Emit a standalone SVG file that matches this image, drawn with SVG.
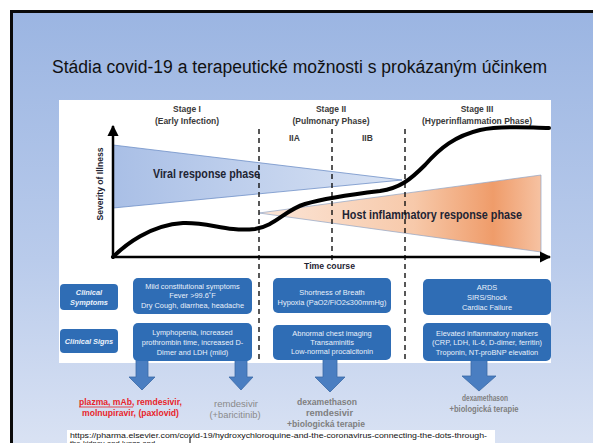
<svg xmlns="http://www.w3.org/2000/svg" width="593" height="443" viewBox="0 0 593 443">
  <defs>
    <linearGradient id="slideBg" x1="0" y1="0" x2="0" y2="1">
      <stop offset="0" stop-color="#9BB5E2"/>
      <stop offset="0.55" stop-color="#B9CBEB"/>
      <stop offset="1" stop-color="#DCE4F4"/>
    </linearGradient>
    <linearGradient id="viralFill" x1="113" y1="0" x2="402" y2="0" gradientUnits="userSpaceOnUse">
      <stop offset="0" stop-color="#A9BFE6"/>
      <stop offset="1" stop-color="#D9E3F4"/>
    </linearGradient>
    <linearGradient id="hostFill" x1="259" y1="0" x2="541" y2="0" gradientUnits="userSpaceOnUse">
      <stop offset="0" stop-color="#FBE6D8"/>
      <stop offset="0.55" stop-color="#F7C9AA"/>
      <stop offset="0.83" stop-color="#EF9C6A"/>
      <stop offset="1" stop-color="#F6C2A2"/>
    </linearGradient>
    <marker id="axisHead" viewBox="0 0 10 10" refX="9" refY="5" markerWidth="4.5" markerHeight="4.5" orient="auto">
      <path d="M0,0 L10,5 L0,10 Z" fill="#000"/>
    </marker>
    <style>
      .hdr { font-family: "Liberation Sans", Arial, sans-serif; font-size: 8.5px; font-weight: bold; fill: #3A3A3A; text-anchor: middle; }
      .sub { font-family: "Liberation Sans", Arial, sans-serif; font-size: 8.5px; font-weight: bold; fill: #3A3A3A; }
      .phase { font-family: "Liberation Sans", Arial, sans-serif; font-weight: bold; fill: #1E2433; }
      .dash { stroke: #111; stroke-width: 1.4; stroke-dasharray: 5 4; fill: none; }
      .box { fill: #2F6DB5; }
      .btxt { font-family: "Liberation Sans", Arial, sans-serif; font-size: 7.4px; fill: #EAF1FB; text-anchor: middle; }
      .lbl { font-family: "Liberation Sans", Arial, sans-serif; font-size: 7.4px; font-weight: bold; font-style: italic; fill: #EAF1FB; text-anchor: middle; }
      .arrow { fill: #4A7EC1; stroke: #3B6AA6; stroke-width: 0.8; }
      .red { font-family: "Liberation Sans", Arial, sans-serif; font-size: 9px; font-weight: bold; fill: #E8242A; text-anchor: middle; }
      .grey { font-family: "Liberation Sans", Arial, sans-serif; font-size: 9px; fill: #8A8A8A; text-anchor: middle; }
      .greyb { font-family: "Liberation Sans", Arial, sans-serif; font-size: 9px; font-weight: bold; fill: #7F7F7F; text-anchor: middle; }
    </style>
  </defs>

  <!-- slide background and frame -->
  <rect x="0" y="0" width="593" height="443" fill="#FFFFFF"/>
  <rect x="11.5" y="11.5" width="600" height="450" fill="url(#slideBg)" stroke="#0A0A0A" stroke-width="3"/>

  <!-- title -->
  <text x="52" y="73" font-family="'Liberation Sans', Arial, sans-serif" font-size="18" fill="#111" textLength="495" lengthAdjust="spacingAndGlyphs">Stádia covid-19 a terapeutické možnosti s prokázaným účinkem</text>

  <!-- figure panel -->
  <rect x="59" y="100" width="492" height="263" fill="#FFFFFF"/>

  <!-- stage headers -->
  <g id="stage-headers">
    <text class="hdr" x="187" y="112">Stage I</text>
    <text class="hdr" x="187" y="124">(Early Infection)</text>
    <text class="hdr" x="331" y="112">Stage II</text>
    <text class="hdr" x="331" y="124">(Pulmonary Phase)</text>
    <text class="hdr" x="477" y="112">Stage III</text>
    <text class="hdr" x="477" y="124">(Hyperinflammation Phase)</text>
    <text class="sub" x="289" y="141">IIA</text>
    <text class="sub" x="362" y="141">IIB</text>
  </g>

  <!-- response phases -->
  <g id="viral-phase">
    <polygon points="113,145 402,180 113,208" fill="url(#viralFill)" stroke="#7090C8" stroke-width="0.8"/>
    <text class="phase" x="153" y="178" font-size="12" textLength="107" lengthAdjust="spacingAndGlyphs">Viral response phase</text>
  </g>
  <g id="host-phase">
    <polygon points="259,213 541,175 541,252" fill="url(#hostFill)" stroke="#8FA3C4" stroke-width="0.7"/>
    <text class="phase" x="342" y="219" font-size="12" textLength="180" lengthAdjust="spacingAndGlyphs">Host inflammatory response phase</text>
  </g>

  <!-- connectors: stage dividers, axes, severity curve, treatment arrows -->
  <g id="connectors">
    <line class="dash" x1="259" y1="129" x2="259" y2="362"/>
    <line class="dash" x1="332" y1="129" x2="332" y2="262"/>
    <line class="dash" x1="405" y1="129" x2="405" y2="362"/>
    <line x1="113" y1="258" x2="113" y2="126" stroke="#000" stroke-width="2.5" marker-end="url(#axisHead)"/>
    <line x1="112" y1="257" x2="550" y2="257" stroke="#000" stroke-width="2.5" marker-end="url(#axisHead)"/>
    <path d="M113,257 C125,245 150,225 183,223 C210,222 225,232 255,229 C275,226 285,210 305,204 C325,198 355,194 380,191 C400,188 410,180 425,165 C440,148 455,136 480,130 C505,125 530,128 549,128" fill="none" stroke="#000" stroke-width="4" stroke-linecap="round"/>
    <path class="arrow" d="M136,359 L148,359 L148,377 L155,377 L142,390 L129,377 L136,377 Z"/>
    <path class="arrow" d="M235,359 L247,359 L247,377 L253,377 L241,390 L229,377 L235,377 Z"/>
    <path class="arrow" d="M323,359 L337,359 L337,377 L345,377 L330,392 L315,377 L323,377 Z"/>
    <path class="arrow" d="M471,359 L487,359 L487,376 L496,376 L479,391 L462,376 L471,376 Z"/>
  </g>

  <!-- axis titles -->
  <text class="phase" x="0" y="0" font-size="8.5" text-anchor="middle" transform="translate(103,184) rotate(-90)" textLength="73" lengthAdjust="spacingAndGlyphs">Severity of Illness</text>
  <text class="phase" x="304" y="269" font-size="9" textLength="51" lengthAdjust="spacingAndGlyphs">Time course</text>

  <!-- row labels -->
  <g id="label-symptoms">
    <rect class="box" x="60" y="284" width="58" height="26" rx="4"/>
    <text class="lbl" x="89" y="295">Clinical</text>
    <text class="lbl" x="89" y="305">Symptoms</text>
  </g>
  <g id="label-signs">
    <rect class="box" x="60" y="329" width="58" height="24" rx="4"/>
    <text class="lbl" x="89" y="344">Clinical Signs</text>
  </g>

  <!-- stage I boxes -->
  <g id="stage1-symptoms">
    <rect class="box" x="133" y="278" width="119" height="36" rx="5"/>
    <text class="btxt" x="192.5" y="289">Mild constitutional symptoms</text>
    <text class="btxt" x="192.5" y="298">Fever &gt;99.6˚F</text>
    <text class="btxt" x="192.5" y="308">Dry Cough, diarrhea, headache</text>
  </g>
  <g id="stage1-signs">
    <rect class="box" x="133" y="323" width="119" height="38" rx="5"/>
    <text class="btxt" x="192.5" y="335">Lymphopenia, increased</text>
    <text class="btxt" x="192.5" y="345">prothrombin time, increased D-</text>
    <text class="btxt" x="192.5" y="355">Dimer and LDH (mild)</text>
  </g>

  <!-- stage II boxes -->
  <g id="stage2-symptoms">
    <rect class="box" x="273" y="278" width="118" height="35" rx="5"/>
    <text class="btxt" x="332" y="295">Shortness of Breath</text>
    <text class="btxt" x="332" y="305">Hypoxia (PaO2/FiO2≤300mmHg)</text>
  </g>
  <g id="stage2-signs">
    <rect class="box" x="273" y="325" width="118" height="35" rx="5"/>
    <text class="btxt" x="332" y="336">Abnormal chest imaging</text>
    <text class="btxt" x="332" y="345">Transaminitis</text>
    <text class="btxt" x="332" y="354">Low-normal procalcitonin</text>
  </g>

  <!-- stage III boxes -->
  <g id="stage3-symptoms">
    <rect class="box" x="423" y="279" width="128" height="36" rx="5"/>
    <text class="btxt" x="487" y="290">ARDS</text>
    <text class="btxt" x="487" y="300">SIRS/Shock</text>
    <text class="btxt" x="487" y="310">Cardiac Failure</text>
  </g>
  <g id="stage3-signs">
    <rect class="box" x="423" y="323" width="128" height="38" rx="5"/>
    <text class="btxt" x="487" y="336">Elevated inflammatory markers</text>
    <text class="btxt" x="487" y="345">(CRP, LDH, IL-6, D-dimer, ferritin)</text>
    <text class="btxt" x="487" y="355">Troponin, NT-proBNP elevation</text>
  </g>

  <!-- therapies -->
  <g id="therapy-stage1">
    <text class="red" x="130.5" y="405" textLength="103" lengthAdjust="spacingAndGlyphs">plazma, mAb, remdesivir,</text>
    <line x1="79" y1="407" x2="133" y2="407" stroke="#E8242A" stroke-width="0.8"/>
    <text class="red" x="130.5" y="416" textLength="97" lengthAdjust="spacingAndGlyphs">molnupiravir, (paxlovid)</text>
  </g>
  <g id="therapy-stage1-2">
    <text class="grey" x="236" y="407" textLength="44" lengthAdjust="spacingAndGlyphs">remdesivir</text>
    <text class="grey" x="235" y="418" textLength="51" lengthAdjust="spacingAndGlyphs">(+baricitinib)</text>
  </g>
  <g id="therapy-stage2">
    <text class="greyb" x="327" y="405" textLength="60" lengthAdjust="spacingAndGlyphs">dexamethason</text>
    <text class="greyb" x="329.5" y="415.5" textLength="47" lengthAdjust="spacingAndGlyphs">remdesivir</text>
    <text class="greyb" x="326" y="427" textLength="78" lengthAdjust="spacingAndGlyphs">+biologická terapie</text>
  </g>
  <g id="therapy-stage3">
    <text class="greyb" x="485" y="401" font-size="8" textLength="46" lengthAdjust="spacingAndGlyphs">dexamethason</text>
    <text class="greyb" x="484" y="411.5" font-size="8" textLength="69" lengthAdjust="spacingAndGlyphs">+biologická terapie</text>
  </g>

  <!-- source link -->
  <rect x="67" y="430" width="428" height="20" fill="#FFFFFF"/>
  <text x="70" y="437.5" font-family="'Liberation Sans', Arial, sans-serif" font-size="7.5" fill="#111" textLength="417" lengthAdjust="spacingAndGlyphs">https://pharma.elsevier.com/covid-19/hydroxychloroquine-and-the-coronavirus-connecting-the-dots-through-</text>
  <text x="70" y="446" font-family="'Liberation Sans', Arial, sans-serif" font-size="7.5" fill="#111">the-kidney-and-lungs-and-</text>
  <line x1="190" y1="437" x2="190" y2="443" stroke="#000" stroke-width="1"/>
</svg>
